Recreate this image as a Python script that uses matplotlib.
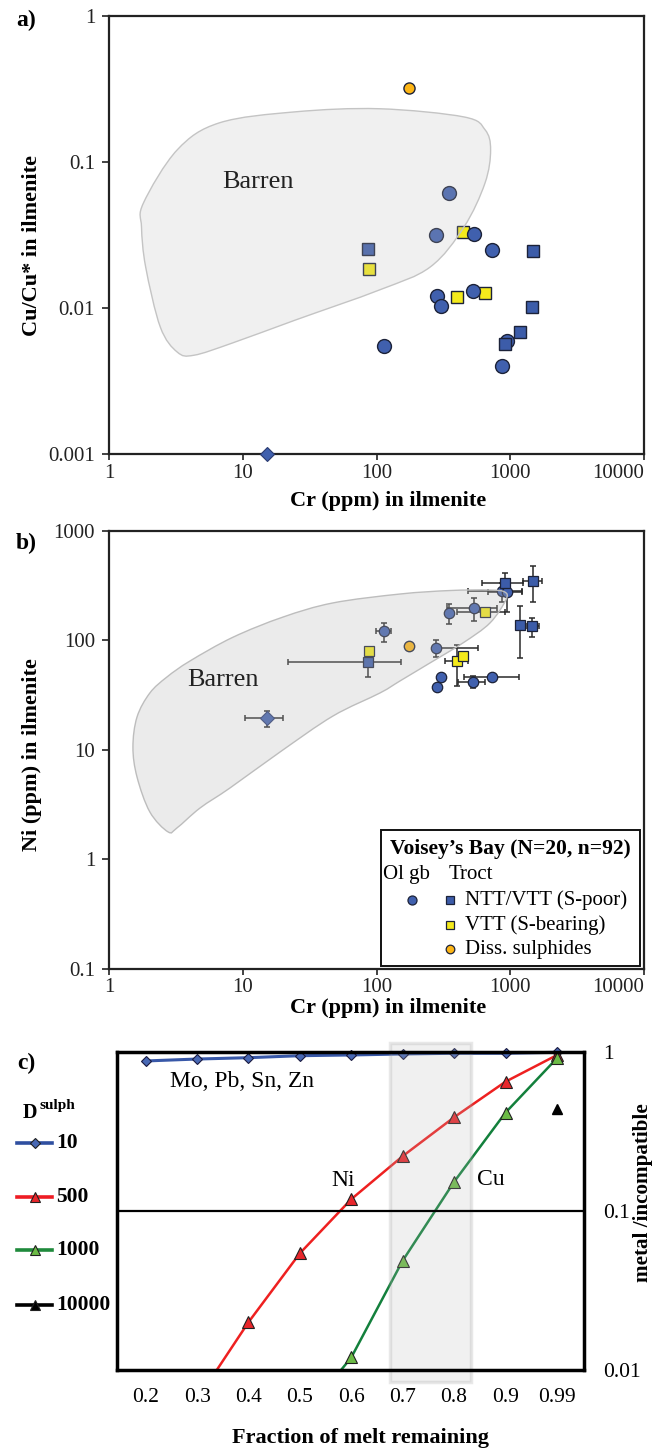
import numpy as np
import matplotlib
matplotlib.use("Agg")
import matplotlib.pyplot as plt
from matplotlib.path import Path
from matplotlib.patches import PathPatch, Rectangle
from matplotlib.lines import Line2D
from matplotlib.ticker import FuncFormatter, NullLocator
from matplotlib.transforms import blended_transform_factory

plt.rcParams['font.family'] = ['Liberation Serif', 'DejaVu Serif']

# ---- Voisey's Bay ilmenite data ----
# olivine gabbro (circles)
ol_cr = [113, 278, 281, 303, 348, 526, 532, 725, 863, 952]
ol_cucu = [0.0055, 0.0318, 0.0121, 0.0103, 0.0615, 0.0131, 0.0321, 0.0250, 0.0040, 0.0060]
ol_ni = [120, 85, 37.5, 46, 175, 41.6, 197, 46, 282, 273]
ol_cr_lo = [98.5, 268, 281, 303, 348, 404, 334, 452, 484, 684]
ol_cr_hi = [128, 576, 281, 303, 348, 646, 800, 1159, 1214, 1228]
ol_ni_lo = [95, 70, 37.5, 46, 140, 36.6, 149, 46, 224, 179]
ol_ni_hi = [144, 100, 37.5, 46, 212, 47, 243, 46, 330, 330]

# troctolite NTT/VTT S-poor (blue squares)
sp_cr = [86.7, 916, 1178, 1463, 1483]
sp_cucu = [0.0254, 0.00565, 0.00684, 0.0101, 0.0246]
sp_ni = [63.4, 334, 138, 135, 348]
sp_cr_lo = [21.9, 610, 1178, 1324, 1250]
sp_cr_hi = [152, 1237, 1178, 1644, 1730]
sp_ni_lo = [46.2, 276, 68.9, 107, 224]
sp_ni_hi = [80, 406, 206, 160, 474]

# VTT S-bearing (yellow squares)
sb_cr = [88.5, 400, 443, 648]
sb_cucu = [0.0186, 0.0119, 0.033, 0.0127]
sb_ni = [79.8, 64.7, 71.9, 179]
sb_cr_lo = [88.5, 324, 443, 397]
sb_cr_hi = [88.5, 480, 443, 912]
sb_ni_lo = [79.8, 38, 71.9, 163]
sb_ni_hi = [79.8, 89.9, 71.9, 194]

# disseminated sulphides (orange)
ds_cr = [176]
ds_cucu = [0.322]
ds_ni = [87.6]

# single diamond sample
dm_cr = [15.2]
dm_cucu = [0.001]
dm_ni = [19.3]
dm_cr_lo, dm_cr_hi = [10.4], [20.1]
dm_ni_lo, dm_ni_hi = [16.1], [22.5]

# barren field outlines
barren_a_cr = [1.81, 3.24, 6.69, 24.7, 105, 451, 648, 713, 648, 451, 252, 105, 24.7,
               8.32, 4.32, 3.24, 2.42, 1.88, 1.75]
barren_a_cucu = [0.0524, 0.121, 0.185, 0.220, 0.231, 0.203, 0.166, 0.121, 0.0718, 0.0359,
                 0.0191, 0.0133, 0.00828, 0.00576, 0.00476, 0.0050, 0.00741, 0.0191, 0.0359]
barren_b_cr = [2.76, 2.02, 1.62, 1.51, 1.62, 2.02, 2.71, 4.03, 8.45, 20.0, 47.2, 150, 354,
               705, 912, 927, 705, 443, 251, 150, 106, 47.2, 19.0, 8.02, 4.79, 3.22]
barren_b_ni = [1.77, 2.69, 5.61, 10.5, 19.8, 32.8, 45.9, 64.3, 106, 162, 218, 263, 283,
               286, 274, 232, 143, 94, 61.7, 42.3, 32.8, 20.2, 9.49, 4.45, 2.92, 1.92]

# ---- fractional crystallisation model ----
melt_frac = ['0.2', '0.3', '0.4', '0.5', '0.6', '0.7', '0.8', '0.9', '0.99']
d10 = [0.882, 0.907, 0.925, 0.952, 0.962, 0.976, 0.986, 0.986, 1.0]
d500 = [np.nan, 0.0065, 0.020, 0.0543, 0.119, 0.222, 0.390, 0.653, 0.96]
d1000 = [np.nan, np.nan, np.nan, 0.0048, 0.0120, 0.0488, 0.153, 0.417, 0.917]
d10000 = [np.nan, np.nan, np.nan, np.nan, np.nan, np.nan, np.nan, np.nan, 0.438]
legend_d = ['10', '500', '1000', '10000']

W, H = 662, 1449
fx = lambda px: px / W
fy = lambda py: 1 - py / H

C_BLUE = '#4060AE'
C_SQ = '#3C5CA9'
C_YEL = '#F4EA1C'
C_ORA = '#FDB515'
C_EDGE = '#1c2238'


def smooth_outline(xs, ys):
    # closed Catmull-Rom outline through the points, built in log space
    p = np.column_stack([np.log10(xs), np.log10(ys)])
    n = len(p)
    verts = [p[0]]
    codes = [Path.MOVETO]
    for i in range(n):
        p0, p1, p2, p3 = p[i - 1], p[i], p[(i + 1) % n], p[(i + 2) % n]
        verts += [p1 + (p2 - p0) / 6, p2 - (p3 - p1) / 6, p2]
        codes += [Path.CURVE4] * 3
    return Path(10 ** np.array(verts), codes)


def style_log_axes(ax, ylims):
    ax.set_xscale('log')
    ax.set_yscale('log')
    ax.set_xlim(1, 10000)
    ax.set_ylim(*ylims)
    ax.set_xticks([1, 10, 100, 1000, 10000])
    fmt = FuncFormatter(lambda v, _: f'{v:g}')
    ax.xaxis.set_major_formatter(fmt)
    ax.yaxis.set_major_formatter(fmt)
    ax.xaxis.set_minor_locator(NullLocator())
    ax.yaxis.set_minor_locator(NullLocator())
    ax.tick_params(axis='both', direction='out', labelsize=15, colors='#222222', width=1.2)
    ax.tick_params(axis='y', length=5, pad=5)
    ax.tick_params(axis='x', length=4, pad=3)
    # keep the last x label inside the figure
    ax.get_xticklabels()[-1].set_horizontalalignment('right')
    for s in ax.spines.values():
        s.set_linewidth(1.6)
        s.set_color('#222222')


fig = plt.figure(figsize=(W / 100, H / 100), dpi=100)

# ---------------- a) Cu/Cu* vs Cr ----------------
ax_a = fig.add_axes([fx(109), fy(454.3), 535 / W, 438.6 / H])
style_log_axes(ax_a, (0.001, 1))
ax_a.plot(sb_cr, sb_cucu, 's', ms=8, mfc=C_YEL, mec=C_EDGE, mew=1, zorder=3)
ax_a.plot(ol_cr, ol_cucu, 'o', ms=10, mfc=C_BLUE, mec=C_EDGE, mew=1, zorder=3)
ax_a.plot(sp_cr, sp_cucu, 's', ms=8, mfc=C_SQ, mec=C_EDGE, mew=1, zorder=3)
ax_a.plot(ds_cr, ds_cucu, 'o', ms=8, mfc=C_ORA, mec=C_EDGE, mew=1, zorder=3)
ax_a.plot(dm_cr, dm_cucu, 'D', ms=7, mfc=C_BLUE, mec='#2a3a70', mew=0.8, zorder=4, clip_on=False)
ax_a.add_patch(PathPatch(smooth_outline(barren_a_cr, barren_a_cucu),
                         fc=(0.74, 0.74, 0.74, 0.22), ec='#c4c4c4', lw=1, zorder=3.5))
ax_a.text(7.08, 0.0732, 'Barren', fontsize=19, color='#222222', va='center', ha='left', zorder=5)

# ---------------- b) Ni vs Cr ----------------
ax_b = fig.add_axes([fx(109), fy(968.5), 535 / W, 438 / H])
style_log_axes(ax_b, (0.1, 1000))


def err_bars(ax, x, y, xlo, xhi, ylo, yhi):
    x, y = np.array(x), np.array(y)
    xerr = [x - np.array(xlo), np.array(xhi) - x]
    yerr = [y - np.array(ylo), np.array(yhi) - y]
    ax.errorbar(x, y, xerr=xerr, yerr=yerr, fmt='none', ecolor='#2a2a2a',
                elinewidth=1.1, capsize=2.5, capthick=1.1, zorder=2)


err_bars(ax_b, ol_cr, ol_ni, ol_cr_lo, ol_cr_hi, ol_ni_lo, ol_ni_hi)
err_bars(ax_b, sp_cr, sp_ni, sp_cr_lo, sp_cr_hi, sp_ni_lo, sp_ni_hi)
err_bars(ax_b, sb_cr, sb_ni, sb_cr_lo, sb_cr_hi, sb_ni_lo, sb_ni_hi)
err_bars(ax_b, dm_cr, dm_ni, dm_cr_lo, dm_cr_hi, dm_ni_lo, dm_ni_hi)
ax_b.plot(ol_cr, ol_ni, 'o', ms=7.5, mfc=C_BLUE, mec=C_EDGE, mew=0.9, zorder=3)
ax_b.plot(sb_cr, sb_ni, 's', ms=6.5, mfc=C_YEL, mec=C_EDGE, mew=0.9, zorder=3)
ax_b.plot(sp_cr, sp_ni, 's', ms=6.5, mfc=C_SQ, mec=C_EDGE, mew=0.9, zorder=3)
ax_b.plot(ds_cr, ds_ni, 'o', ms=7.5, mfc=C_ORA, mec=C_EDGE, mew=1, zorder=3)
ax_b.plot(dm_cr, dm_ni, 'D', ms=7, mfc=C_BLUE, mec='#2a3a70', mew=0.8, zorder=3)
ax_b.add_patch(PathPatch(smooth_outline(barren_b_cr, barren_b_ni),
                         fc=(0.72, 0.72, 0.72, 0.28), ec='#bdbdbd', lw=1, zorder=3.5))
ax_b.text(3.83, 43, 'Barren', fontsize=19, color='#222222', va='center', ha='left', zorder=5)

# legend box
ta = ax_b.transAxes
ax_b.add_patch(Rectangle((0.5084, 0.0057), 0.4841, 0.3105, transform=ta, fc='white',
                         ec='#111111', lw=1.4, zorder=6))
ax_b.text(0.5243, 0.2728, 'Voisey\u2019s Bay (N=20, n=92)', transform=ta, fontsize=15.5,
          fontweight='bold', va='center', ha='left', zorder=7)
ax_b.text(0.5121, 0.2135, 'Ol gb', transform=ta, fontsize=15, va='center', ha='left', zorder=7)
ax_b.text(0.6355, 0.2135, 'Troct', transform=ta, fontsize=15, va='center', ha='left', zorder=7)
leg_rows = [(0.1564, 's', C_SQ, 'NTT/VTT (S-poor)'),
            (0.0993, 's', C_YEL, 'VTT (S-bearing)'),
            (0.0434, 'o', C_ORA, 'Diss. sulphides')]
ax_b.add_line(Line2D([0.5669], [0.1564], transform=ta, marker='o', ls='none', ms=6.5,
                     mfc=C_BLUE, mec=C_EDGE, mew=0.9, zorder=7))
for yy, mk, col, lab in leg_rows:
    ax_b.add_line(Line2D([0.6375], [yy], transform=ta, marker=mk, ls='none', ms=6.2,
                         mfc=col, mec=C_EDGE, mew=0.9, zorder=7))
    ax_b.text(0.6654, yy, lab, transform=ta, fontsize=15, va='center', ha='left', zorder=7)

# axis labels and panel letters for a) and b)
for yc, lab in [(246, 'Cu/Cu* in ilmenite'), (755, 'Ni (ppm) in ilmenite')]:
    fig.text(fx(32), fy(yc), lab, rotation=90, fontsize=16, fontweight='bold',
             ha='center', va='center')
for yc in (501, 1008):
    fig.text(fx(388), fy(yc), 'Cr (ppm) in ilmenite', fontsize=16, fontweight='bold',
             ha='center', va='center')
fig.text(fx(26), fy(20), 'a)', fontsize=17, fontweight='bold', ha='center', va='center')
fig.text(fx(26), fy(543), 'b)', fontsize=17, fontweight='bold', ha='center', va='center')

# ---------------- c) melt fractionation model ----------------
ax_c = fig.add_axes([fx(116.7), fy(1370), 467.3 / W, 317.7 / H])
xi = np.arange(len(melt_frac))
ax_c.set_yscale('log')
ax_c.set_ylim(0.01, 1)
ax_c.set_xlim(-0.564, 8.527)
ax_c.set_xticks(xi)
ax_c.set_xticklabels(melt_frac)
ax_c.yaxis.tick_right()
ax_c.set_yticks([0.01, 0.1, 1])
ax_c.set_yticklabels(['0.01', '0.1', '1'])
ax_c.yaxis.set_minor_locator(NullLocator())
ax_c.tick_params(axis='x', length=0, pad=13, labelsize=15.5)
ax_c.tick_params(axis='y', length=0, pad=14, labelsize=15.5)
for s in ax_c.spines.values():
    s.set_linewidth(2.5)
    s.set_color('black')
ax_c.axhline(0.1, color='black', lw=1.6, zorder=2.4)

ax_c.plot(xi, d10, color='#3858A8', lw=2.2, marker='D', ms=5.5, mfc='#4868B4',
          mec='#1a1a40', mew=0.8, zorder=2, clip_on=False)
ax_c.plot(xi, d500, color='#EE2020', lw=1.8, marker='^', ms=8, mfc='#E8262B',
          mec='#202020', mew=0.8, zorder=2)
ax_c.plot(xi, d1000, color='#13803C', lw=1.8, marker='^', ms=8, mfc='#6CBB46',
          mec='#202020', mew=0.8, zorder=2)
ax_c.plot(xi, d10000, color='black', lw=1.8, marker='^', ms=6.5, ls='none', zorder=2)

band = Rectangle((4.75, -0.037), 1.57, 1.065,
                 transform=blended_transform_factory(ax_c.transData, ax_c.transAxes),
                 fc=(0.72, 0.72, 0.72, 0.2), ec=(0.6, 0.6, 0.6, 0.22), lw=2.5,
                 clip_on=False, zorder=2.2)
ax_c.add_patch(band)

ax_c.text(0.473, 0.653, 'Mo, Pb, Sn, Zn', fontsize=17, ha='left', va='center')
ax_c.text(3.84, 0.155, 'Ni', fontsize=17, ha='center', va='center')
ax_c.text(6.72, 0.159, 'Cu', fontsize=17, ha='center', va='center')

fig.text(fx(643), fy(1193), 'metal /incompatible', rotation=90, fontsize=15.2,
         fontweight='bold', ha='center', va='center')
fig.text(fx(360), fy(1438), 'Fraction of melt remaining', fontsize=16,
         fontweight='bold', ha='center', va='center')
fig.text(fx(26), fy(1063), 'c)', fontsize=17, fontweight='bold', ha='center', va='center')

# D sulph legend on the left
fig.text(fx(23), fy(1113), 'D', fontsize=14.5, fontweight='bold', ha='left', va='center')
fig.text(fx(39), fy(1106), 'sulph', fontsize=11, fontweight='bold', ha='left', va='center')
leg_c = [('#2F4FA0', 'D', '#4868B4', 5.5),
         ('#EE1C24', '^', '#E8262B', 7.5),
         ('#1F8A3C', '^', '#6CBB46', 7.5),
         ('black', '^', 'black', 6.5)]
for (lc, mk, mf, ms), lab, yc in zip(leg_c, legend_d, [1143, 1197, 1250, 1305]):
    fig.add_artist(Line2D([fx(17), fx(52)], [fy(yc), fy(yc)], transform=fig.transFigure,
                          color=lc, lw=2.6))
    fig.add_artist(Line2D([fx(34.5)], [fy(yc)], transform=fig.transFigure, marker=mk,
                          ms=ms, mfc=mf, mec='#202020', mew=0.8, ls='none'))
    fig.text(fx(56), fy(yc), lab, fontsize=15.5, fontweight='bold', ha='left', va='center')

fig.savefig('out.png', dpi=100)
